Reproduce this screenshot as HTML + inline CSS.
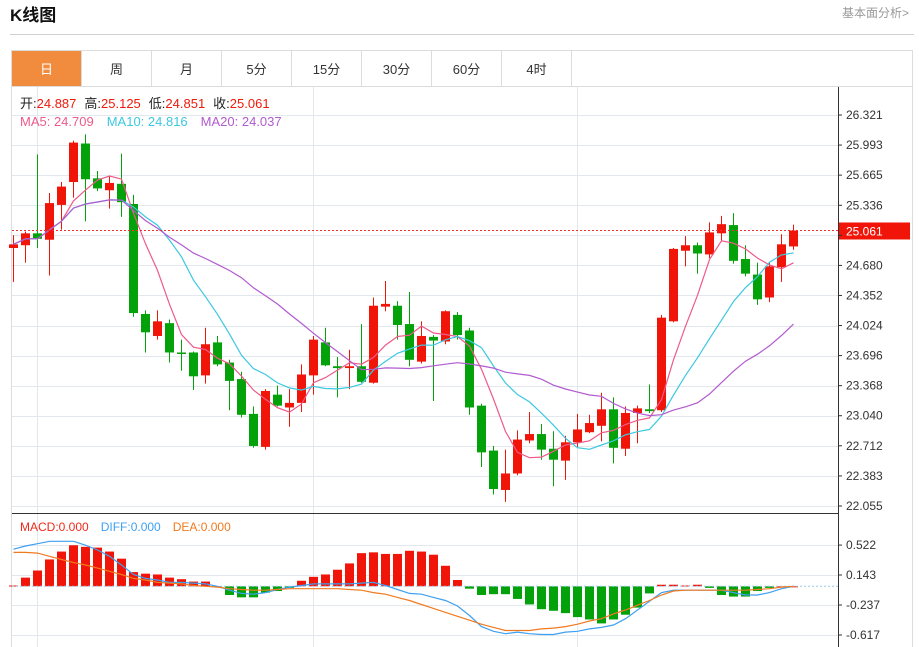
<!DOCTYPE html>
<html><head><meta charset="utf-8">
<style>
body{margin:0;background:#fff;font-family:"Liberation Sans","Noto Sans CJK SC",sans-serif;}
#wrap{position:relative;width:919px;height:647px;overflow:hidden;}
</style></head>
<body>
<div id="wrap">
<svg id="svg" width="919" height="647" xmlns="http://www.w3.org/2000/svg" style="position:absolute;left:0;top:0;font-family:'Liberation Sans','Noto Sans CJK SC',sans-serif">
  <text x="10" y="21" font-size="17" font-weight="bold" fill="#111">K线图</text>
  <text x="909" y="17" font-size="12" fill="#999" text-anchor="end">基本面分析&gt;</text>
  <line x1="10" y1="34.5" x2="914" y2="34.5" stroke="#d0d0d0"/>
  <rect x="11.5" y="50.5" width="901" height="600" fill="none" stroke="#dcdcdc"/>
  <g id="tabs"></g>
  <g id="grid"></g>
  <g id="chart"></g>
  <g id="macd"></g>
  <g id="axes"></g>
  <text x="20" y="108" font-size="13"><tspan fill="#222">开:</tspan><tspan fill="#f01a0a">24.887</tspan><tspan fill="#222" dx="8">高:</tspan><tspan fill="#f01a0a">25.125</tspan><tspan fill="#222" dx="8">低:</tspan><tspan fill="#f01a0a">24.851</tspan><tspan fill="#222" dx="8">收:</tspan><tspan fill="#f01a0a">25.061</tspan></text>
  <text x="20" y="126" font-size="13"><tspan fill="#ee5a8a">MA5: 24.709</tspan><tspan fill="#3cc8e0" dx="13">MA10: 24.816</tspan><tspan fill="#b25acf" dx="13">MA20: 24.037</tspan></text>
  <text x="20" y="531" font-size="12"><tspan fill="#f02a1a">MACD:0.000</tspan><tspan fill="#3fa0f0" dx="12">DIFF:0.000</tspan><tspan fill="#f07a20" dx="12">DEA:0.000</tspan></text>
</svg>
</div>
<script>
// ---- data ----
const opens=[24.87,24.90,25.03,24.96,25.34,25.59,26.01,25.63,25.50,25.57,25.35,24.15,23.91,24.05,23.73,23.73,23.48,23.84,23.62,23.44,23.06,22.70,23.27,23.13,23.18,23.48,23.84,23.58,23.56,23.58,23.40,24.23,24.24,24.04,23.63,23.90,23.85,24.14,23.97,23.15,22.66,22.23,22.41,22.77,22.84,22.68,22.55,22.75,22.86,22.93,23.11,22.68,23.07,23.11,23.10,24.07,24.84,24.90,24.80,25.03,25.12,24.75,24.58,24.33,24.66,24.887];
const highs=[25.01,25.05,25.89,25.47,25.59,26.04,26.11,25.71,25.65,25.90,25.45,24.19,24.19,24.09,23.87,23.74,24.00,23.91,23.65,23.52,23.14,23.33,23.37,23.33,23.60,23.91,24.00,23.68,23.76,24.04,24.33,24.51,24.29,24.39,24.07,23.92,24.19,24.17,24.00,23.17,22.71,22.67,22.88,23.08,22.95,22.87,22.82,23.06,23.05,23.29,23.24,23.14,23.15,23.38,24.14,24.87,25.00,24.93,25.15,25.22,25.25,24.90,24.71,24.71,25.02,25.125];
const lows=[24.50,24.71,24.87,24.57,25.07,25.42,25.16,25.49,25.30,25.21,24.12,23.73,23.87,23.62,23.53,23.32,23.39,23.58,23.10,23.02,22.69,22.67,23.14,22.92,23.08,23.27,23.58,23.24,23.33,23.40,23.39,24.18,23.87,23.58,23.61,23.20,23.82,23.87,23.05,22.48,22.18,22.10,22.39,22.74,22.56,22.27,22.34,22.70,22.85,22.76,22.52,22.60,22.74,23.07,23.08,24.06,24.67,24.59,24.76,24.94,24.70,24.56,24.25,24.28,24.50,24.851];
const closes=[24.91,25.03,24.97,25.36,25.54,26.02,25.62,25.52,25.58,25.37,24.16,23.95,24.07,23.73,23.72,23.47,23.82,23.60,23.42,23.05,22.71,23.31,23.15,23.18,23.49,23.87,23.59,23.56,23.58,23.41,24.24,24.26,24.03,23.65,23.91,23.86,24.18,23.92,23.13,22.64,22.24,22.41,22.78,22.84,22.67,22.56,22.75,22.89,22.96,23.11,22.69,23.07,23.12,23.09,24.11,24.86,24.90,24.81,25.04,25.13,24.73,24.59,24.31,24.67,24.91,25.061];
const macdHist=[0.01,0.11,0.20,0.34,0.44,0.52,0.50,0.49,0.44,0.35,0.18,0.16,0.15,0.11,0.09,0.06,0.06,-0.01,-0.11,-0.14,-0.14,-0.08,-0.06,-0.02,0.07,0.12,0.15,0.21,0.29,0.42,0.43,0.41,0.41,0.45,0.44,0.40,0.26,0.08,-0.03,-0.11,-0.10,-0.10,-0.16,-0.23,-0.29,-0.31,-0.34,-0.39,-0.42,-0.47,-0.42,-0.36,-0.27,-0.09,0.02,0.02,0.01,0.02,-0.02,-0.11,-0.13,-0.13,-0.06,-0.02,0,0];
const diffVals=[0.47,0.51,0.54,0.57,0.57,0.57,0.52,0.46,0.38,0.27,0.15,0.10,0.08,0.05,0.05,0.04,0.03,0,-0.05,-0.09,-0.10,-0.08,-0.04,-0.01,0.01,0.03,0.03,0.03,0.03,0.04,0.05,0.01,-0.04,-0.09,-0.10,-0.14,-0.18,-0.25,-0.37,-0.51,-0.57,-0.60,-0.58,-0.60,-0.61,-0.61,-0.58,-0.57,-0.54,-0.52,-0.49,-0.41,-0.30,-0.19,-0.08,-0.05,-0.05,-0.05,-0.05,-0.05,-0.08,-0.11,-0.11,-0.08,-0.03,0];
const deaVals=[0.43,0.43,0.42,0.38,0.34,0.30,0.27,0.23,0.19,0.15,0.10,0.08,0.05,0.04,0.03,0.01,0,-0.01,-0.03,-0.04,-0.05,-0.05,-0.04,-0.03,-0.03,-0.03,-0.03,-0.03,-0.04,-0.05,-0.08,-0.10,-0.14,-0.18,-0.23,-0.28,-0.33,-0.38,-0.43,-0.48,-0.52,-0.56,-0.56,-0.56,-0.54,-0.53,-0.51,-0.48,-0.44,-0.41,-0.35,-0.30,-0.24,-0.18,-0.11,-0.06,-0.05,-0.05,-0.05,-0.05,-0.05,-0.05,-0.04,-0.03,-0.01,0];
const priceTicks=[26.321,25.993,25.665,25.336,25.008,24.680,24.352,24.024,23.696,23.368,23.040,22.712,22.383,22.055];
const priceTickLabels=["26.321","25.993","25.665","25.336","","24.680","24.352","24.024","23.696","23.368","23.040","22.712","22.383","22.055"];
const macdTicks=[0.522,0.143,-0.237,-0.617];
const macdTickLabels=["0.522","0.143","-0.237","-0.617"];
const tabLabels=["日","周","月","5分","15分","30分","60分","4时"];
const lastPrice=25.061;

// ---- scales ----
const NS="http://www.w3.org/2000/svg";
const X0=13,STEP=12,AXX=838;
const xAt=i=>X0+i*STEP;
const yP=p=>115+(26.321-p)*(391/4.266);
const yM=v=>586.3-v*(30/0.38);
function mk(tag,attrs,parent){const e=document.createElementNS(NS,tag);for(const k in attrs)e.setAttribute(k,attrs[k]);parent.appendChild(e);return e;}
const RED="#f01508",GREEN="#04a20a";

// tabs
const tabs=document.getElementById('tabs');
tabLabels.forEach((t,i)=>{
  const x=11.5+i*70;
  const r=mk('rect',{x:x,y:50.5,width:70,height:36,fill:i===0?'#f18c3f':'#fff',stroke:'#dcdcdc'},tabs);
  
  
  const tx=mk('text',{x:x+35,y:74,'font-size':13,'text-anchor':'middle',fill:i===0?'#fff':'#333'},tabs);
  tx.textContent=t;
  
  
});
mk('line',{x1:11.5,y1:86.5,x2:912.5,y2:86.5,stroke:'#dcdcdc'},tabs);

// grid
const grid=document.getElementById('grid');
priceTicks.forEach(p=>{const y=Math.round(yP(p))+0.5;mk('line',{x1:12,y1:y,x2:AXX,y2:y,stroke:'#e3e8ef'},grid);});
macdTicks.forEach(v=>{const y=Math.round(yM(v))+0.5;mk('line',{x1:12,y1:y,x2:AXX,y2:y,stroke:'#e3e8ef'},grid);});
[37,313,577].forEach(x=>mk('line',{x1:x+0.5,y1:87,x2:x+0.5,y2:647,stroke:'#e3e8ef'},grid));
mk('line',{x1:12,y1:513.5,x2:AXX,y2:513.5,stroke:'#333'},grid);

// candles
const chart=document.getElementById('chart');
for(let i=0;i<closes.length;i++){
  const up=closes[i]>=opens[i],c=up?RED:GREEN,x=xAt(i);
  const w=mk('line',{x1:x+0.5,x2:x+0.5,y1:yP(highs[i]),y2:yP(lows[i]),stroke:c,'stroke-width':1},chart);
  
  
  const t=yP(Math.max(opens[i],closes[i])),b=yP(Math.min(opens[i],closes[i]));
  const r=mk('rect',{x:x-4,y:t,width:9,height:Math.max(1.5,b-t),fill:c},chart);
  
  
}
// MAs (partial windows at start)
function ma(n){return closes.map((_,i)=>{const s=Math.max(0,i-n+1);let t=0;for(let k=s;k<=i;k++)t+=closes[k];return t/(i-s+1);});}
[[5,'#ee5a8a','ma5-line'],[10,'#3cc8e0','ma10-line'],[20,'#b25acf','ma20-line']].forEach(([n,col,nm])=>{
  const v=ma(n);
  const p=mk('polyline',{points:v.map((m,i)=>(xAt(i)+0.5)+','+yP(m).toFixed(1)).join(' '),fill:'none',stroke:col,'stroke-width':1.2},chart);
  
  
});
// last price line
const ly=yP(lastPrice);
mk('line',{x1:12,y1:ly,x2:AXX,y2:ly,stroke:'#f03030','stroke-dasharray':'2,2'},chart);
const lb=mk('rect',{x:AXX,y:ly-8,width:72,height:17,fill:'#f01508'},chart);


const lt=mk('text',{x:AXX+8,y:ly+5,'font-size':12,fill:'#fff'},chart);lt.textContent=lastPrice.toFixed(3);

// MACD
const macd=document.getElementById('macd');
macdHist.forEach((v,i)=>{
  const x=xAt(i),y0=yM(0),y1=yM(v);
  const r=mk('rect',{x:x-4,y:Math.min(y0,y1),width:9,height:Math.max(1,Math.abs(y1-y0)),fill:v>=0?RED:GREEN},macd);
  
  
});
mk('line',{x1:12,y1:yM(0),x2:AXX,y2:yM(0),stroke:'#9cc8e8','stroke-dasharray':'2,2'},macd);
const dl=mk('polyline',{points:diffVals.map((v,i)=>(xAt(i)+0.5)+','+yM(v).toFixed(1)).join(' '),fill:'none',stroke:'#3fa0f0','stroke-width':1.2},macd);


const el=mk('polyline',{points:deaVals.map((v,i)=>(xAt(i)+0.5)+','+yM(v).toFixed(1)).join(' '),fill:'none',stroke:'#f07a20','stroke-width':1.2},macd);



// axes
const axes=document.getElementById('axes');
mk('line',{x1:AXX+0.5,y1:87,x2:AXX+0.5,y2:647,stroke:'#333'},axes);
priceTicks.forEach((p,i)=>{const y=yP(p);mk('line',{x1:AXX,y1:y,x2:AXX+4,y2:y,stroke:'#333'},axes);
  if(priceTickLabels[i]){const t=mk('text',{x:AXX+8,y:y+4,'font-size':12,fill:'#333'},axes);t.textContent=priceTickLabels[i];
  
  }});
macdTicks.forEach((v,i)=>{const y=yM(v);mk('line',{x1:AXX,y1:y,x2:AXX+4,y2:y,stroke:'#333'},axes);
  const t=mk('text',{x:AXX+8,y:y+4,'font-size':12,fill:'#333'},axes);t.textContent=macdTickLabels[i];
  
  });
</script>
</body></html>
